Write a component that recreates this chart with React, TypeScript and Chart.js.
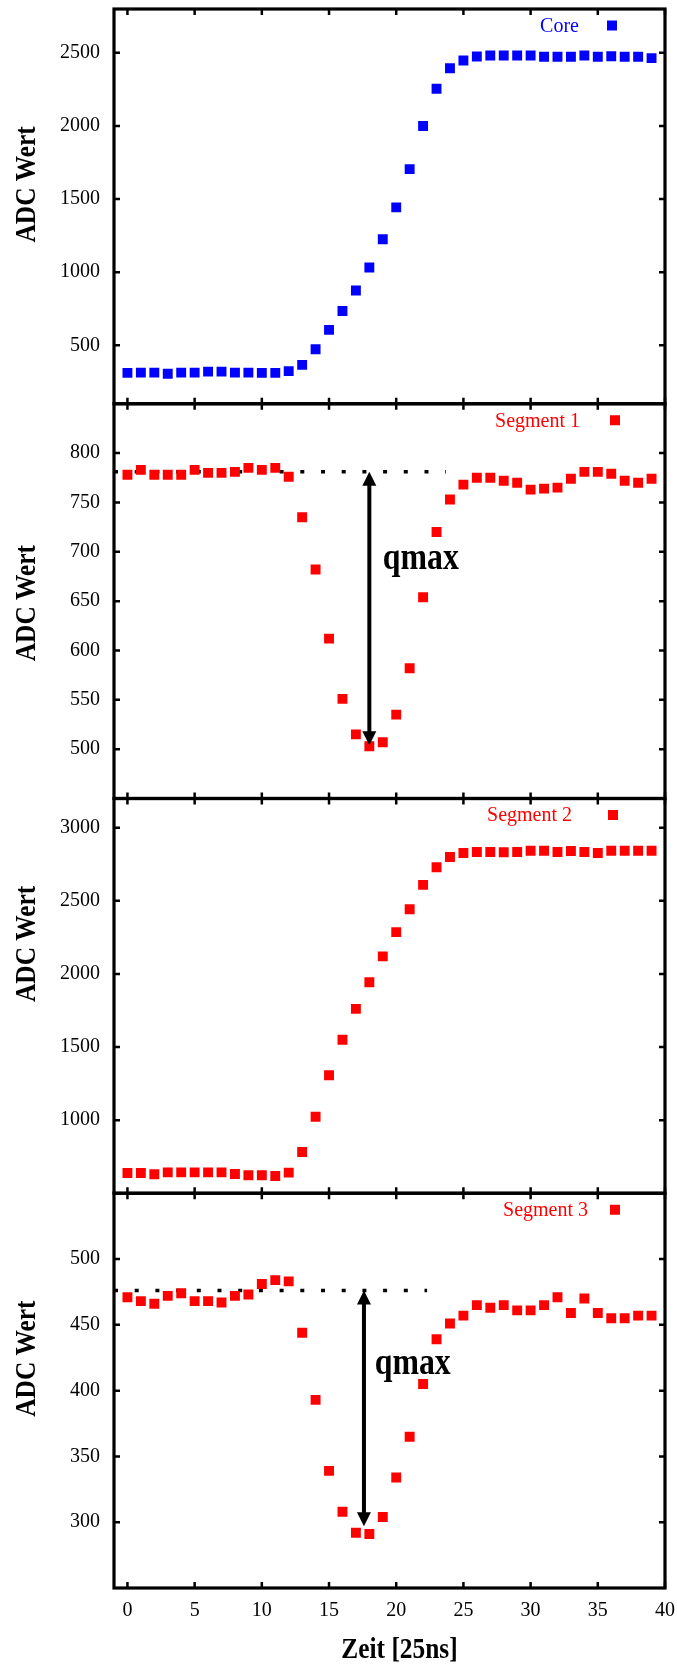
import { useEffect, useRef } from "react";
import { Chart, registerables } from "chart.js";

Chart.register(...registerables);

// ---------- data ----------
const zeit = [0, 1, 2, 3, 4, 5, 6, 7, 8, 9, 10, 11, 12, 13, 14, 15, 16, 17, 18, 19, 20, 21, 22, 23, 24, 25, 26, 27, 28, 29, 30, 31, 32, 33, 34, 35, 36, 37, 38, 39];

const coreValues = [311, 313, 313, 305, 313, 313, 320, 320, 313, 313, 311, 311, 323, 366, 473, 605, 734, 875, 1032, 1225, 1443, 1705, 2000, 2255, 2395, 2448, 2475, 2482, 2482, 2482, 2482, 2473, 2473, 2473, 2482, 2473, 2477, 2473, 2473, 2464];

const segment1Values = [778, 783, 778, 778, 778, 783, 780, 780, 781, 785, 783, 785, 776, 735, 682, 612, 551, 515, 503, 507, 535, 582, 654, 720, 753, 768, 775, 775, 772, 770, 763, 764, 765, 774, 781, 781, 779, 772, 770, 774];

const segment2Values = [639, 639, 630, 643, 643, 643, 643, 643, 632, 623, 623, 618, 641, 782, 1023, 1307, 1550, 1761, 1943, 2120, 2286, 2443, 2609, 2730, 2800, 2827, 2834, 2834, 2832, 2834, 2843, 2843, 2834, 2841, 2834, 2827, 2843, 2843, 2843, 2843];

const segment3Values = [471, 468, 466, 472, 474, 468, 468, 467, 472, 473, 481, 484, 483, 444, 393, 339, 308, 292, 291, 304, 334, 365, 405, 439, 451, 457, 465, 463, 465, 461, 461, 465, 471, 459, 470, 459, 455, 455, 457, 457];

const xTicks = [0, 5, 10, 15, 20, 25, 30, 35, 40];
const coreTicks = [500, 1000, 1500, 2000, 2500];
const segment1Ticks = [500, 550, 600, 650, 700, 750, 800];
const segment2Ticks = [1000, 1500, 2000, 2500, 3000];
const segment3Ticks = [300, 350, 400, 450, 500];

const seriesLabels = ["Core", "Segment 1", "Segment 2", "Segment 3"];
const xRange = [-1, 40];
const coreRange = [100, 2800];
const segment1Range = [450, 850];
const segment2Range = [500, 3200];
const segment3Range = [250, 550];

const yTitle = "ADC Wert";
const xTitle = "Zeit [25ns]";

// qmax annotations (segment 1 and segment 3)
const qmaxAxes = ["y2", "y4"];
const qmaxBaseline = [781, 476];
const qmaxBaselineStart = [-1, -1];
const qmaxBaselineEnd = [23.7, 22.3];
const qmaxArrowX = [18, 17.6];
const qmaxArrowBottom = [504, 297];
const qmaxLabelText = ["qmax", "qmax"];
const qmaxLabelX = [19.0, 18.4];
const qmaxLabelY = [683, 413];

// ---------- styling / layout ----------
const BLUE = "#0000ff";
const RED = "#ff0000";
const SERIF = '"Liberation Serif", "Times New Roman", serif';
const AXES = ["y1", "y2", "y3", "y4"];
const PANEL_COLORS = [BLUE, RED, RED, RED];
const PANEL_TICKS = [coreTicks, segment1Ticks, segment2Ticks, segment3Ticks];
const LEGEND_TEXT_OFFSET = [86, 85, 93, 77]; // from right frame
const LEGEND_MARK_OFFSET = [53, 50, 52, 50];
const YTITLE_SHIFT = [-22, 2, -52, -32]; // vs panel centre
const CONDENSE = 0.86;

function drawText(ctx: any, text: string, x: number, y: number, font: string, align: string, rotate: boolean, color = "#000") {
  ctx.save();
  ctx.translate(x, y);
  if (rotate) ctx.rotate(-Math.PI / 2);
  ctx.scale(CONDENSE, 1);
  ctx.font = font;
  ctx.fillStyle = color;
  ctx.textAlign = align;
  ctx.textBaseline = "alphabetic";
  ctx.fillText(text, 0, 0);
  ctx.restore();
}

const decorPlugin = {
  id: "decor",
  afterDraw(chart: any) {
    const { ctx, chartArea } = chart;
    const xs = chart.scales.x;
    const { left, right } = chartArea;
    ctx.save();

    // qmax arrows + labels
    qmaxAxes.forEach((id, k) => {
      const ys = chart.scales[id];
      const ax = xs.getPixelForValue(qmaxArrowX[k]);
      const yTop = ys.getPixelForValue(qmaxBaseline[k]);
      const yBot = ys.getPixelForValue(qmaxArrowBottom[k]);
      const head = 14;
      const half = 7;
      ctx.strokeStyle = "#000";
      ctx.fillStyle = "#000";
      ctx.lineWidth = 4;
      ctx.beginPath();
      ctx.moveTo(ax, yTop + head - 1);
      ctx.lineTo(ax, yBot - head + 1);
      ctx.stroke();
      ctx.beginPath();
      ctx.moveTo(ax, yTop);
      ctx.lineTo(ax - half, yTop + head);
      ctx.lineTo(ax + half, yTop + head);
      ctx.closePath();
      ctx.fill();
      ctx.beginPath();
      ctx.moveTo(ax, yBot);
      ctx.lineTo(ax - half, yBot - head);
      ctx.lineTo(ax + half, yBot - head);
      ctx.closePath();
      ctx.fill();
      drawText(ctx, qmaxLabelText[k], xs.getPixelForValue(qmaxLabelX[k]), ys.getPixelForValue(qmaxLabelY[k]), "bold 37px " + SERIF, "left", false);
    });

    // panels: frames, inward ticks, legends, y titles
    AXES.forEach((id, i) => {
      const s = chart.scales[id];
      const top = s.top;
      const bottom = s.bottom;
      const TL = 6;
      ctx.strokeStyle = "#000";
      ctx.lineWidth = 2.5;
      ctx.beginPath();
      xTicks.forEach((v) => {
        const px = xs.getPixelForValue(v);
        ctx.moveTo(px, top);
        ctx.lineTo(px, top + TL);
        ctx.moveTo(px, bottom);
        ctx.lineTo(px, bottom - TL);
      });
      PANEL_TICKS[i].forEach((v) => {
        const py = s.getPixelForValue(v);
        ctx.moveTo(left, py);
        ctx.lineTo(left + TL, py);
        ctx.moveTo(right, py);
        ctx.lineTo(right - TL, py);
      });
      ctx.stroke();
      ctx.lineWidth = 3.2;
      ctx.lineJoin = "miter";
      ctx.strokeRect(left, top, right - left, bottom - top);

      // legend
      const ly = top + 16.5;
      ctx.font = "20px " + SERIF;
      ctx.fillStyle = PANEL_COLORS[i];
      ctx.textAlign = "right";
      ctx.textBaseline = "middle";
      ctx.fillText(seriesLabels[i], right - LEGEND_TEXT_OFFSET[i], ly + 1);
      const mx = right - LEGEND_MARK_OFFSET[i];
      ctx.fillRect(mx - 5, ly - 5, 10, 10);

      // y title
      drawText(ctx, yTitle, 34.5, (top + bottom) / 2 + YTITLE_SHIFT[i], "bold 29.5px " + SERIF, "center", true);
    });

    // x title
    drawText(ctx, xTitle, (left + right) / 2 + 10, 1658, "bold 29.5px " + SERIF, "center", false);
    ctx.restore();
  },
};

function pts(values: number[]) {
  return values.map((v, i) => ({ x: zeit[i], y: v }));
}

const tickFont = { family: SERIF, size: 20 };

function yScale(range: number[], ticks: number[], weight: number) {
  return {
    type: "linear",
    position: "left",
    stack: "panels",
    stackWeight: 1,
    weight,
    min: range[0],
    max: range[1],
    afterBuildTicks: (s: any) => {
      s.ticks = ticks.map((v) => ({ value: v }));
    },
    afterFit: (s: any) => {
      s.width = 114;
      s.paddingTop = 0;
      s.paddingBottom = 0;
    },
    ticks: { font: tickFont, color: "#000", padding: 14, callback: (v: any) => String(v) },
    grid: { display: false, drawTicks: false },
    border: { display: false },
    title: { display: false },
  };
}

export default function App() {
  const ref = useRef<HTMLCanvasElement | null>(null);
  useEffect(() => {
    if (!ref.current) return;
    const square = { pointStyle: "rect", pointRadius: 7, pointBorderWidth: 0, showLine: false };
    const dotted = { showLine: true, borderColor: "#000", borderWidth: 3.5, borderDash: [4, 16.7], borderCapStyle: "butt", pointRadius: 0 };
    const chart = new Chart(ref.current, {
      type: "scatter",
      data: {
        datasets: [
          { label: seriesLabels[0], data: pts(coreValues), yAxisID: "y1", backgroundColor: BLUE, borderColor: BLUE, ...square },
          { label: seriesLabels[1], data: pts(segment1Values), yAxisID: "y2", backgroundColor: RED, borderColor: RED, ...square },
          { label: seriesLabels[2], data: pts(segment2Values), yAxisID: "y3", backgroundColor: RED, borderColor: RED, ...square },
          { label: seriesLabels[3], data: pts(segment3Values), yAxisID: "y4", backgroundColor: RED, borderColor: RED, ...square },
          { label: "base1", data: [{ x: qmaxBaselineStart[0], y: qmaxBaseline[0] }, { x: qmaxBaselineEnd[0], y: qmaxBaseline[0] }], yAxisID: qmaxAxes[0], ...dotted },
          { label: "base3", data: [{ x: qmaxBaselineStart[1], y: qmaxBaseline[1] }, { x: qmaxBaselineEnd[1], y: qmaxBaseline[1] }], yAxisID: qmaxAxes[1], ...dotted },
        ],
      },
      options: {
        responsive: false,
        animation: false,
        devicePixelRatio: 1,
        layout: { padding: { top: 9, right: 12, bottom: 0, left: 0 } },
        plugins: { legend: { display: false }, tooltip: { enabled: false } },
        scales: {
          x: {
            type: "linear",
            position: "bottom",
            min: xRange[0],
            max: xRange[1],
            afterBuildTicks: (s: any) => {
              s.ticks = xTicks.map((v) => ({ value: v }));
            },
            afterFit: (s: any) => {
              s.height = 80;
              s.paddingLeft = 0;
              s.paddingRight = 0;
            },
            ticks: { font: tickFont, color: "#000", padding: 11, maxRotation: 0, autoSkip: false, callback: (v: any) => String(v) },
            grid: { display: false, drawTicks: false },
            border: { display: false },
          },
          y1: yScale(coreRange, coreTicks, 4),
          y2: yScale(segment1Range, segment1Ticks, 3),
          y3: yScale(segment2Range, segment2Ticks, 2),
          y4: yScale(segment3Range, segment3Ticks, 1),
        },
      } as any,
      plugins: [decorPlugin],
    } as any);
    return () => chart.destroy();
  }, []);
  return (
    <div style={{ position: "absolute", left: 0, top: 0, width: 677, height: 1668, background: "#fff" }}>
      <canvas ref={ref} width={677} height={1668} />
    </div>
  );
}
